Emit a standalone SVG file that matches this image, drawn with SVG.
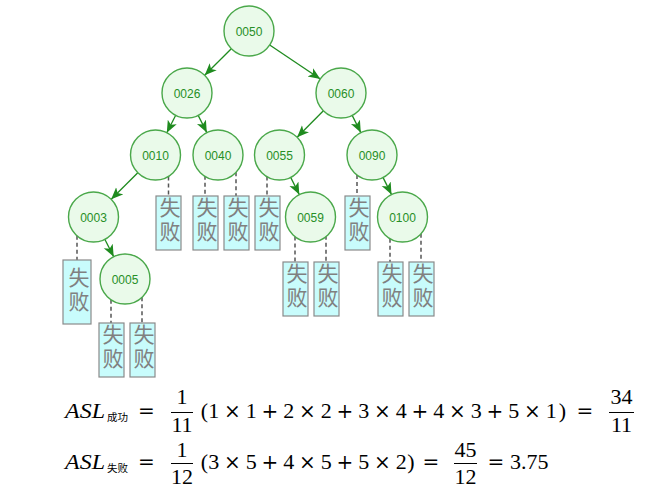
<svg xmlns="http://www.w3.org/2000/svg" width="666" height="495" viewBox="0 0 666 495">
<defs>
<marker id="ah" markerUnits="userSpaceOnUse" markerWidth="13" markerHeight="11" refX="12" refY="5" orient="auto">
<path d="M0,0 L12,5 L0,10 L3,5 Z" fill="#1f8b1f"/>
</marker>
</defs>
<style>
.nd circle{fill:#eafaea;stroke:#4aa84a;stroke-width:1.4}
.nd text{font-family:"Liberation Sans",Arial,sans-serif;font-size:12px;fill:#278f27;text-anchor:middle}
.edge{stroke:#1f8b1f;stroke-width:1.3;fill:none;marker-end:url(#ah)}
.dash{stroke:#555;stroke-width:1.5;stroke-dasharray:4 3}
.fb rect{fill:#c8fcfc;stroke:#8a8a8a;stroke-width:1.2}
.fb text{font-family:"Noto Sans CJK SC",sans-serif;font-size:21px;fill:#808080;writing-mode:vertical-rl;letter-spacing:3px}
.m{font-family:"Liberation Serif",serif;font-size:22px;fill:#000}
.mc{text-anchor:middle}
.op{font-family:"DejaVu Serif",serif;font-size:20px;fill:#000;text-anchor:middle}
.it{font-style:italic}
.sub{font-family:"Noto Sans CJK SC",sans-serif;font-size:10.5px;fill:#000}
.bar{stroke:#000;stroke-width:1}
</style>
<rect width="666" height="495" fill="#fff"/>
<g id="connectors">
<line class="edge" x1="231.3" y1="48.7" x2="204.7" y2="75.3"/>
<line class="edge" x1="269.7" y1="45" x2="320.3" y2="79"/>
<line class="edge" x1="175.7" y1="115.3" x2="166.8" y2="132.7"/>
<line class="edge" x1="198.2" y1="115.4" x2="206.8" y2="132.6"/>
<line class="edge" x1="323.4" y1="110.8" x2="297.1" y2="137.3"/>
<line class="edge" x1="352.2" y1="115.4" x2="360.8" y2="132.6"/>
<line class="edge" x1="137.8" y1="172.7" x2="111.2" y2="199.3"/>
<line class="edge" x1="290.7" y1="177.4" x2="299.3" y2="194.6"/>
<line class="edge" x1="383" y1="177.4" x2="391.5" y2="194.6"/>
<line class="edge" x1="104.8" y1="239.3" x2="113.7" y2="256.7"/>
<line class="dash" x1="168.5" y1="176.6" x2="168.5" y2="196"/>
<line class="dash" x1="205" y1="175.7" x2="205" y2="196"/>
<line class="dash" x1="236" y1="172.3" x2="236" y2="196"/>
<line class="dash" x1="267" y1="176.6" x2="267" y2="196"/>
<line class="dash" x1="357" y1="175" x2="357" y2="196"/>
<line class="dash" x1="77" y1="235.8" x2="77" y2="260"/>
<line class="dash" x1="295" y1="236.6" x2="295" y2="262"/>
<line class="dash" x1="326" y1="235.8" x2="326" y2="262"/>
<line class="dash" x1="390" y1="238.7" x2="390" y2="262"/>
<line class="dash" x1="421" y1="233.8" x2="421" y2="262"/>
<line class="dash" x1="111" y1="299.7" x2="111" y2="323"/>
<line class="dash" x1="142" y1="297.3" x2="142" y2="323"/>
</g>
<g id="n0050" class="nd"><circle cx="249" cy="31" r="25"/><text x="249" y="35.5">0050</text></g>
<g id="n0026" class="nd"><circle cx="187" cy="93" r="25"/><text x="187" y="97.5">0026</text></g>
<g id="n0060" class="nd"><circle cx="341" cy="93" r="25"/><text x="341" y="97.5">0060</text></g>
<g id="n0010" class="nd"><circle cx="155.5" cy="155" r="25"/><text x="155.5" y="159.5">0010</text></g>
<g id="n0040" class="nd"><circle cx="218" cy="155" r="25"/><text x="218" y="159.5">0040</text></g>
<g id="n0055" class="nd"><circle cx="279.5" cy="155" r="25"/><text x="279.5" y="159.5">0055</text></g>
<g id="n0090" class="nd"><circle cx="372" cy="155" r="25"/><text x="372" y="159.5">0090</text></g>
<g id="n0003" class="nd"><circle cx="93.5" cy="217" r="25"/><text x="93.5" y="221.5">0003</text></g>
<g id="n0059" class="nd"><circle cx="310.5" cy="217" r="25"/><text x="310.5" y="221.5">0059</text></g>
<g id="n0100" class="nd"><circle cx="402.5" cy="217" r="25"/><text x="402.5" y="221.5">0100</text></g>
<g id="n0005" class="nd"><circle cx="125" cy="279" r="25"/><text x="125" y="283.5">0005</text></g>
<g id="f1" class="fb"><rect x="156" y="196" width="25" height="54"/><text x="170" y="197">失败</text></g>
<g id="f2" class="fb"><rect x="193" y="196" width="25" height="54"/><text x="207" y="197">失败</text></g>
<g id="f3" class="fb"><rect x="224" y="196" width="25" height="54"/><text x="238" y="197">失败</text></g>
<g id="f4" class="fb"><rect x="255" y="196" width="25" height="54"/><text x="269" y="197">失败</text></g>
<g id="f5" class="fb"><rect x="345" y="196" width="25" height="54"/><text x="359" y="197">失败</text></g>
<g id="f6" class="fb"><rect x="63" y="260" width="28" height="64"/><text x="79" y="267">失败</text></g>
<g id="f7" class="fb"><rect x="283" y="262" width="25" height="54"/><text x="297" y="263">失败</text></g>
<g id="f8" class="fb"><rect x="314" y="262" width="25" height="54"/><text x="328" y="263">失败</text></g>
<g id="f9" class="fb"><rect x="378" y="262" width="25" height="54"/><text x="392" y="263">失败</text></g>
<g id="f10" class="fb"><rect x="409" y="262" width="25" height="54"/><text x="423" y="263">失败</text></g>
<g id="f11" class="fb"><rect x="99" y="323" width="25" height="54"/><text x="113" y="324">失败</text></g>
<g id="f12" class="fb"><rect x="130" y="323" width="25" height="54"/><text x="144" y="324">失败</text></g>
<g id="formula1">
<text class="m it" x="65" y="418" textLength="40" lengthAdjust="spacingAndGlyphs">ASL</text>
<text class="sub" x="107" y="421">成功</text>
<text class="op" x="146.5" y="418">=</text>
<text class="m mc" x="182" y="404">1</text>
<line class="bar" x1="171" y1="412.5" x2="193" y2="412.5"/>
<text class="m mc" x="182" y="431.5">11</text>
<text class="m mc" x="204.5" y="418">(</text>
<text class="m mc" x="213.7" y="418">1</text>
<text class="op" x="232.45" y="418">×</text>
<text class="m mc" x="251.2" y="418">1</text>
<text class="op" x="269.95" y="418">+</text>
<text class="m mc" x="288.7" y="418">2</text>
<text class="op" x="307.45" y="418">×</text>
<text class="m mc" x="326.2" y="418">2</text>
<text class="op" x="344.95" y="418">+</text>
<text class="m mc" x="363.7" y="418">3</text>
<text class="op" x="382.45" y="418">×</text>
<text class="m mc" x="401.2" y="418">4</text>
<text class="op" x="419.95" y="418">+</text>
<text class="m mc" x="438.7" y="418">4</text>
<text class="op" x="457.45" y="418">×</text>
<text class="m mc" x="476.2" y="418">3</text>
<text class="op" x="494.95" y="418">+</text>
<text class="m mc" x="513.7" y="418">5</text>
<text class="op" x="532.45" y="418">×</text>
<text class="m mc" x="551.2" y="418">1</text>
<text class="m mc" x="562.5" y="418">)</text>
<text class="op" x="585" y="418">=</text>
<text class="m mc" x="621.5" y="404">34</text>
<line class="bar" x1="609" y1="412.5" x2="634" y2="412.5"/>
<text class="m mc" x="621.5" y="431.5">11</text>
</g>
<g id="formula2">
<text class="m it" x="65" y="469" textLength="40" lengthAdjust="spacingAndGlyphs">ASL</text>
<text class="sub" x="107" y="472">失败</text>
<text class="op" x="146.5" y="469">=</text>
<text class="m mc" x="182" y="457">1</text>
<line class="bar" x1="171" y1="463.5" x2="193" y2="463.5"/>
<text class="m mc" x="182" y="484">12</text>
<text class="m mc" x="204.5" y="469">(</text>
<text class="m mc" x="213.7" y="469">3</text>
<text class="op" x="232.45" y="469">×</text>
<text class="m mc" x="251.2" y="469">5</text>
<text class="op" x="269.95" y="469">+</text>
<text class="m mc" x="288.7" y="469">4</text>
<text class="op" x="307.45" y="469">×</text>
<text class="m mc" x="326.2" y="469">5</text>
<text class="op" x="344.95" y="469">+</text>
<text class="m mc" x="363.7" y="469">5</text>
<text class="op" x="382.45" y="469">×</text>
<text class="m mc" x="401.2" y="469">2</text>
<text class="m mc" x="411" y="469">)</text>
<text class="op" x="431" y="469">=</text>
<text class="m mc" x="465.5" y="457">45</text>
<line class="bar" x1="454" y1="463.5" x2="477" y2="463.5"/>
<text class="m mc" x="465.5" y="484">12</text>
<text class="op" x="496" y="469">=</text>
<text class="m" x="510" y="469">3.75</text>
</g>
</svg>
